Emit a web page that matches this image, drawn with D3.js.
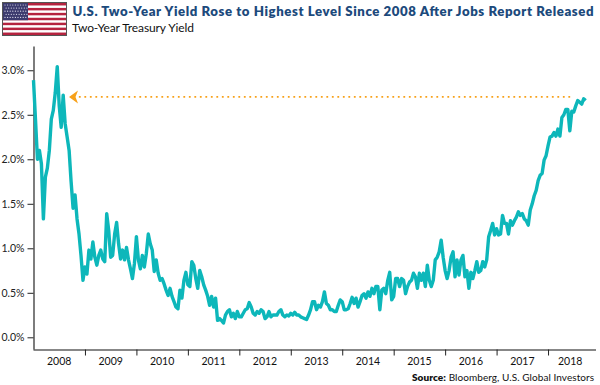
<!DOCTYPE html>
<html><head><meta charset="utf-8">
<script src="https://cdn.jsdelivr.net/npm/d3@7/dist/d3.min.js"></script>
<style>html,body{margin:0;padding:0;background:#fff}svg{display:block}</style></head>
<body><svg id="c" width="600" height="385"></svg>
<script>
const titleText = "U.S. Two-Year Yield Rose to Highest Level Since 2008 After Jobs Report Released";
const subtitleText = "Two-Year Treasury Yield";
const sourceBold = "Source:";
const sourceText = " Bloomberg, U.S. Global Investors";
const years = [2008,2009,2010,2011,2012,2013,2014,2015,2016,2017,2018];
const yTicks = [0,0.5,1,1.5,2,2.5,3];
const arrowLevel = 2.70;
const arrowFrom = 2018.43, arrowTo = 2008.865;
const perYear = 26;
const y2008=[2.89,2.45,2.0,2.1,1.95,1.33,1.8,1.9,2.1,2.45,2.55,2.75,3.04,2.6,2.36,2.72,2.4,2.25,2.1,1.75,1.45,1.6,1.33,1.16,.92,.64];
const y2009=[.79,.71,.98,.88,1.07,.9,.81,.92,.98,.88,.85,1.39,1.2,.9,.92,1.16,1.29,1.05,.88,.98,.87,1.01,.87,.77,.66,.83];
const y2010=[1.13,.87,.77,.92,.79,.94,1.16,1.05,.98,.74,.87,.72,.64,.66,.6,.53,.47,.55,.46,.4,.34,.32,.53,.44,.64,.73];
const y2011=[.59,.57,.85,.81,.66,.55,.75,.68,.59,.53,.46,.36,.46,.34,.44,.19,.21,.19,.16,.25,.29,.31,.23,.27,.21,.29];
const y2012=[.23,.23,.27,.31,.32,.39,.34,.27,.25,.29,.27,.31,.29,.21,.23,.29,.23,.25,.25,.25,.29,.31,.25,.23,.25,.24];
const y2013=[.27,.25,.28,.25,.25,.23,.22,.21,.2,.25,.31,.4,.4,.31,.36,.34,.4,.51,.38,.36,.31,.31,.29,.29,.36,.42];
const y2014=[.4,.31,.31,.32,.38,.45,.38,.44,.34,.4,.47,.49,.44,.51,.46,.55,.49,.57,.57,.31,.53,.55,.49,.64,.73,.42];
const y2015=[.46,.66,.66,.57,.66,.64,.49,.57,.62,.64,.72,.68,.55,.72,.64,.72,.57,.81,.64,.57,.64,.87,.9,.96,1.09,.9];
const y2016=[.75,.66,.75,.9,.96,.68,.87,.7,.87,.92,.68,.75,.55,.73,.66,.75,.85,.73,.75,.85,.79,.87,1.13,1.2,1.28,1.15];
const y2017=[1.22,1.15,1.16,1.37,1.28,1.28,1.16,1.31,1.26,1.31,1.35,1.41,1.37,1.39,1.33,1.31,1.26,1.43,1.5,1.59,1.65,1.76,1.82,1.84,1.99,2.04];
const y2018=[2.15,2.25,2.26,2.3,2.26,2.34,2.26,2.47,2.5,2.56,2.56,2.32,2.54,2.53,2.6,2.66,2.64,2.62,2.68,2.66];

const yields = [y2008,y2009,y2010,y2011,y2012,y2013,y2014,y2015,y2016,y2017,y2018].flat();
const svg = d3.select("#c");
const x = d3.scaleLinear().domain([2008,2019]).range([33.5,599.5]);
const y = d3.scaleLinear().domain([-0.137,3.267]).range([349.5,46.5]);
const FONT = "Lato, 'Open Sans', sans-serif";

// flag
const flag = svg.append("g");
const fx=d3.scaleLinear().domain([0,1]).range([3,66]), fy=d3.scaleLinear().domain([0,13]).range([3,35]);
flag.append("rect").attr("x",2.5).attr("y",2.5).attr("width",64).attr("height",33).attr("fill","#fff").attr("stroke","#555").attr("stroke-width",1);
flag.selectAll(".st").data(d3.range(0,13,2)).join("rect")
  .attr("x",fx(0)).attr("width",fx(1)-fx(0)).attr("y",d=>fy(d)).attr("height",fy(1)-fy(0)).attr("fill","#b5233f");
flag.append("rect").attr("x",fx(0)).attr("y",fy(0)).attr("width",25).attr("height",fy(7)-fy(0)).attr("fill","#3c3b6e");
const starCoords=d3.cross(d3.range(9),d3.range(5));
flag.selectAll(".star").data(starCoords).join("circle")
  .attr("cx",d=>fx(0)+2+d[0]*2.6+(d[1]%2)*1.1).attr("cy",d=>fy(0)+2+d[1]*3.1)
  .attr("r",.6).attr("fill","#dfe0ee");

// titles
svg.append("text").attr("x",72.5).attr("y",16).attr("font-family",FONT).attr("font-size",13.2).attr("font-weight",800)
  .attr("fill","#1c4a7c").attr("textLength",521).attr("lengthAdjust","spacing").text(titleText);
svg.append("text").attr("x",72).attr("y",32).attr("font-family",FONT).attr("font-size",12).attr("fill","#111")
  .attr("textLength",122).attr("lengthAdjust","spacing").text(subtitleText);

// axes
const yAxis = d3.axisLeft(y).tickValues(yTicks).tickSize(6).tickPadding(3).tickFormat(d=>d3.format(".1f")(d)+"%");
const gy = svg.append("g").attr("transform","translate(33.5,0)").call(yAxis);
const xAxis = d3.axisBottom(x).tickValues(years.slice(1)).tickSize(6).tickFormat("");
const gx = svg.append("g").attr("transform","translate(0,349.5)").call(xAxis);
gx.select(".domain").attr("d","M33.5,0.5H596");
gy.select(".domain").attr("d","M0.5,46.5V349.5");
svg.selectAll(".domain").attr("stroke","#111").attr("stroke-width",1.1);
svg.selectAll(".tick line").attr("stroke","#222");
gy.selectAll("text").attr("font-family",FONT).attr("font-size",10.5).attr("fill","#222");
svg.selectAll(".lab").data(years).join("text")
  .attr("x",d=>x(d===2018?2018.43:d+0.5)).attr("y",365).attr("text-anchor","middle")
  .attr("font-family",FONT).attr("font-size",10.5).attr("fill","#111").text(d=>d);

// line
const line = d3.line().x((d,i)=>x(2008+i/perYear)).y(d=>y(d)).curve(d3.curveLinear);
svg.append("path").datum(yields).attr("d",line).attr("fill","none").attr("stroke","#0db7ba")
  .attr("stroke-width",3.4).attr("stroke-linejoin","round");

// arrow
const ay=y(arrowLevel);
svg.append("line").attr("x1",x(arrowFrom)).attr("x2",x(arrowTo)).attr("y1",ay).attr("y2",ay)
  .attr("stroke","#f7a11a").attr("stroke-width",1.8).attr("stroke-dasharray","1.8 3.7");
const tip=x(arrowTo)-9;
svg.append("path").attr("d",d3.line()([[tip,ay],[tip+9,ay-6.5],[tip+6.5,ay],[tip+9,ay+6.5]])+"Z").attr("fill","#f7a11a");

// source
const s=svg.append("text").attr("x",412).attr("y",381).attr("font-family",FONT).attr("font-size",10).attr("fill","#111")
  .attr("textLength",182).attr("lengthAdjust","spacing");
s.append("tspan").attr("font-weight",800).text(sourceBold);
s.append("tspan").text(sourceText);
</script></body></html>
